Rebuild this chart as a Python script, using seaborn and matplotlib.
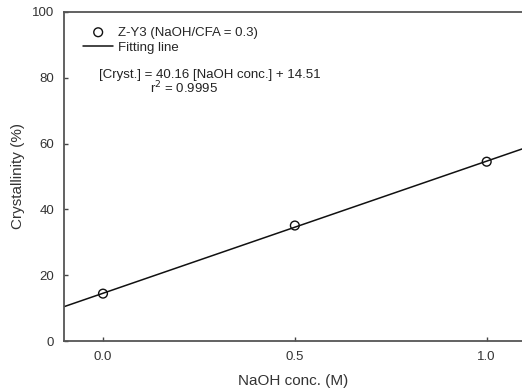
import numpy as np
import pandas as pd
import matplotlib
matplotlib.use("Agg")
import matplotlib.pyplot as plt
import seaborn as sns

sns.set_theme(style="ticks")
plt.rcParams['font.family'] = ['Liberation Sans', 'DejaVu Sans']

# data
naoh_conc = [0.0, 0.5, 1.0]
crystallinity = [14.4, 35.1, 54.5]
slope = 40.16
intercept = 14.51
x_ticks = [0.0, 0.5, 1.0]
y_ticks = [0, 20, 40, 60, 80, 100]
x_lim = (-0.1016, 1.092)

df = pd.DataFrame({"NaOH conc. (M)": naoh_conc, "Crystallinity (%)": crystallinity})
fit_x = np.array(x_lim)
fit_df = pd.DataFrame({"x": fit_x, "y": slope * fit_x + intercept})

fig = plt.figure(figsize=(5.22, 3.92), dpi=100)
ax = fig.add_axes([64 / 522, 51 / 392, 458 / 522, 329 / 392])

sns.lineplot(data=fit_df, x="x", y="y", ax=ax, color="#111111", linewidth=1.1,
             label="Fitting line", legend=False)
sns.scatterplot(data=df, x="NaOH conc. (M)", y="Crystallinity (%)", ax=ax,
                marker="o", s=40, facecolor="none", edgecolor="#111111", linewidth=1.0,
                label="Z-Y3 (NaOH/CFA = 0.3)", legend=False, zorder=3)

ax.set_xlim(*x_lim)
ax.set_ylim(0, 100)
ax.set_xticks(x_ticks)
ax.set_xticklabels([f"{v:.1f}" for v in x_ticks])
ax.set_yticks(y_ticks)
ax.set_xlabel("NaOH conc. (M)", fontsize=11, color="#333333", labelpad=8)
ax.set_ylabel("Crystallinity (%)", fontsize=11, color="#333333", labelpad=5)
ax.tick_params(direction="in", length=3, width=1, colors="#444444", labelsize=9.5,
               labelcolor="#333333", pad=7)
ax.spines["right"].set_visible(False)
for s in ["left", "bottom", "top"]:
    ax.spines[s].set_color("#555555")
    ax.spines[s].set_linewidth(1.3)

handles, labels = ax.get_legend_handles_labels()
order = [labels.index("Z-Y3 (NaOH/CFA = 0.3)"), labels.index("Fitting line")]
ax.legend([handles[i] for i in order], [labels[i] for i in order], loc="upper left",
          bbox_to_anchor=(19 / 458, 0.956), frameon=False, fontsize=9.5, handlelength=2.3,
          handletextpad=0.35, borderaxespad=0, borderpad=0, labelspacing=0.2)

ax.text(35 / 458, 0.81, f"[Cryst.] = {slope:.2f} [NaOH conc.] + {intercept:.2f}",
        transform=ax.transAxes, fontsize=9.5, color="#222222", va="center")
ax.text(120 / 458, 0.77, r"r$^2$ = 0.9995", transform=ax.transAxes, fontsize=9.5,
        color="#222222", va="center", ha="center")

fig.savefig("out.png", dpi=100)
